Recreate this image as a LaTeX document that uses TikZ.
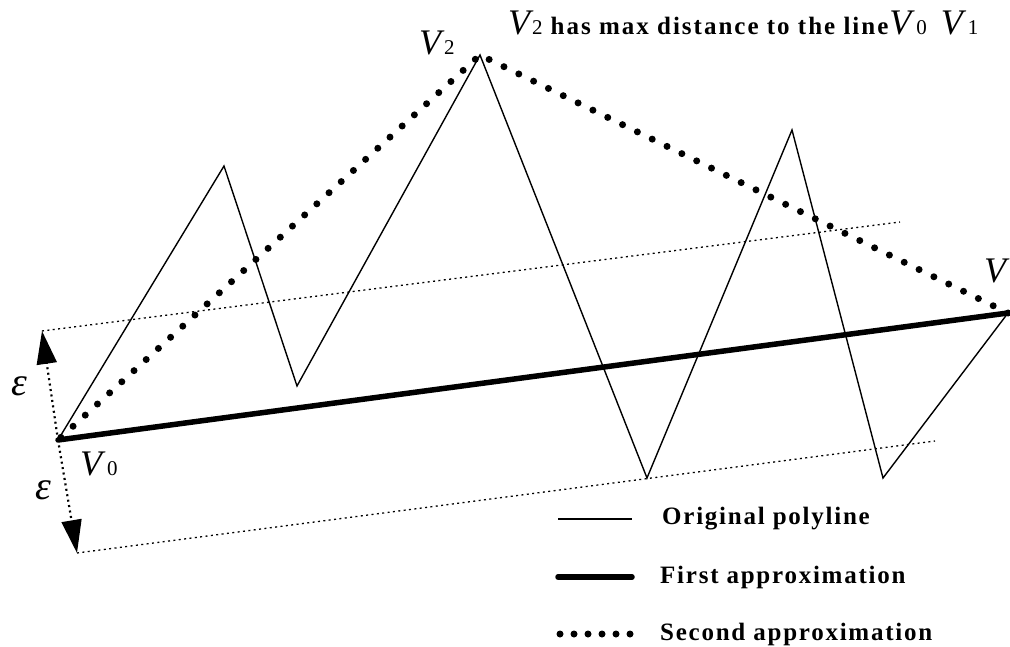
\documentclass[tikz,border=0pt]{standalone}
\usepackage{fontspec}
\setmainfont{Liberation Serif}
\newfontfamily\lsfont[LetterSpace=8]{Liberation Serif}
\newfontfamily\lgfont[LetterSpace=7]{Liberation Serif}
\usetikzlibrary{arrows.meta}
\tikzset{
  orig/.style={line width=1.4pt, line join=miter},
  firstapp/.style={line width=5.5pt, line cap=round},
  secondapp/.style={line width=7pt, line cap=round, dash pattern=on 0pt off 16.5pt},
  band/.style={line width=1.3pt, dash pattern=on 2pt off 3.4pt},
  epsarrow/.style={line width=2.2pt, dash pattern=on 2pt off 3.5pt, -{Triangle[length=33pt,width=20pt]}},
  legtext/.style={anchor=west, inner sep=0pt, font=\lgfont\bfseries\fontsize{25}{25}\selectfont},
  vlabel/.style={inner sep=0pt},
}
\newcommand{\BigV}{{\itshape\fontsize{36}{36}\selectfont V}}
\newcommand{\SubN}[1]{{\fontsize{21}{21}\selectfont #1}}
\begin{document}
\begin{tikzpicture}[x=1pt,y=-1pt]
\useasboundingbox (0,0) rectangle (1010,647);
% key points
\coordinate (V0) at (58,440);
\coordinate (V1) at (1008,313);
\coordinate (V2) at (480,55);
\coordinate (P1) at (224,166);
\coordinate (P2) at (297,386);
\coordinate (P3) at (647,478);
\coordinate (P4) at (792,130);
\coordinate (P5) at (883,478);
\coordinate (U0) at (42,331);
\coordinate (U1) at (900,222);
\coordinate (L0) at (77,553);
\coordinate (L1) at (935,441);
% epsilon band
\draw[band] (U0) -- (U1);
\draw[band] (L0) -- (L1);
\draw[epsarrow] (V0) -- (U0);
\draw[epsarrow] (V0) -- (L0);
% original polyline
\draw[orig] (V0) -- (P1) -- (P2) -- (V2) -- (P3) -- (P4) -- (P5) -- (V1);
% first approximation
\draw[firstapp] (V0) -- (V1);
% second approximation
\draw[secondapp] (V1) -- (V2) -- (V0);
% labels
\node[vlabel, anchor=base west] (lV2) at (419,55) {\BigV\hspace{3pt}\SubN{2}};
\node[vlabel, anchor=base west] (lV0) at (80,475) {\BigV\hspace{5pt}\SubN{0}};
\node[vlabel, anchor=base west] (lV1) at (984,283) {\BigV\hspace{5pt}\SubN{1}};
\node[vlabel, anchor=base west] (title) at (508,35)
  {\BigV\hspace{2pt}\SubN{2}\hspace{8pt}{\lsfont\bfseries\fontsize{25}{25}\selectfont has max distance to the line}\hspace{1pt}\BigV\hspace{5pt}\SubN{0}\hspace{14pt}\BigV\hspace{5pt}\SubN{1}};
\node[vlabel] (eps1) at (19,386) {\itshape\fontsize{40}{40}\selectfont ε};
\node[vlabel] (eps2) at (43,490) {\itshape\fontsize{40}{40}\selectfont ε};
% legend
\coordinate (a1) at (558,519); \coordinate (a2) at (632,519);
\coordinate (b1) at (558,577); \coordinate (b2) at (632,577);
\coordinate (c1) at (560,634); \coordinate (c2) at (630.5,634);
\draw[line width=1.4pt] (a1) -- (a2);
\draw[firstapp] (b1) -- (b2);
\draw[line width=7pt, line cap=round, dash pattern=on 0pt off 14pt] (c1) -- (c2);
\node[legtext] (t1) at (662,519) {Original polyline};
\node[legtext] (t2) at (660,577) {First approximation};
\node[legtext] (t3) at (660,634) {Second approximation};
\end{tikzpicture}
\end{document}
